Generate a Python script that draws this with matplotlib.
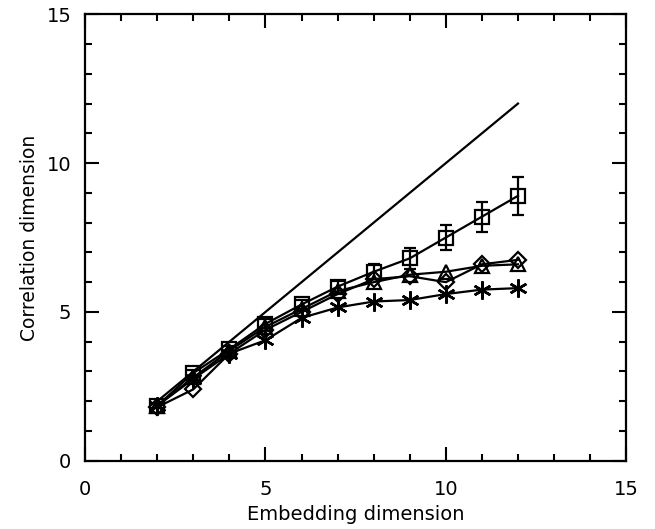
import numpy as np
import matplotlib.pyplot as plt
from matplotlib.ticker import MultipleLocator

# embedding dimension
emb_dim = [2, 3, 4, 5, 6, 7, 8, 9, 10, 11, 12]

# reference line (correlation dimension = embedding dimension)
ref_line = [2, 3, 4, 5, 6, 7, 8, 9, 10, 11, 12]

# series
sq_vals = [1.85, 2.95, 3.75, 4.6, 5.25, 5.85, 6.35, 6.8, 7.5, 8.2, 8.9]
sq_err = [0.08, 0.1, 0.12, 0.15, 0.15, 0.2, 0.25, 0.35, 0.42, 0.5, 0.64]
dia_vals = [1.8, 2.4, 3.6, 4.4, 5.0, 5.6, 6.1, 6.2, 6.0, 6.6, 6.75]
tri_vals = [1.85, 2.8, 3.7, 4.5, 5.1, 5.7, 6.0, 6.25, 6.35, 6.55, 6.6]
ast_vals = [1.85, 2.75, 3.6, 4.05, 4.8, 5.15, 5.35, 5.4, 5.6, 5.75, 5.8]

fig = plt.figure(figsize=(6.55, 5.29), dpi=100)
ax = fig.add_axes([0.130, 0.129, 0.826, 0.844])

ax.plot(emb_dim, ref_line, color='black', lw=1.6)

ax.errorbar(emb_dim, sq_vals, yerr=sq_err, color='black', lw=1.6,
            marker='s', ms=10, mfc='none', mew=1.6, capsize=4, elinewidth=1.6)
ax.plot(emb_dim, dia_vals, color='black', lw=1.6,
        marker='D', ms=8, mfc='none', mew=1.6)
ax.plot(emb_dim, tri_vals, color='black', lw=1.6,
        marker='^', ms=10, mfc='none', mew=1.6)
ax.plot(emb_dim, ast_vals, color='black', lw=1.6,
        marker=(6, 2, 0), ms=13, mew=1.8)

ax.set_xlim(0, 15)
ax.set_ylim(0, 15)
ax.xaxis.set_major_locator(MultipleLocator(5))
ax.xaxis.set_minor_locator(MultipleLocator(1))
ax.yaxis.set_major_locator(MultipleLocator(5))
ax.yaxis.set_minor_locator(MultipleLocator(1))
ax.tick_params(which='both', direction='in', top=True, right=True,
               width=1.5, labelsize=14)
ax.tick_params(which='major', length=10)
ax.tick_params(axis='x', which='major', pad=14)
ax.tick_params(axis='y', which='major', pad=10)
ax.tick_params(which='minor', length=5)
for sp in ax.spines.values():
    sp.set_linewidth(1.6)

ax.set_xlabel('Embedding dimension', fontsize=14, labelpad=4)
ax.set_ylabel('Correlation dimension', fontsize=13.5, labelpad=5)

fig.savefig('out.png', dpi=100)
